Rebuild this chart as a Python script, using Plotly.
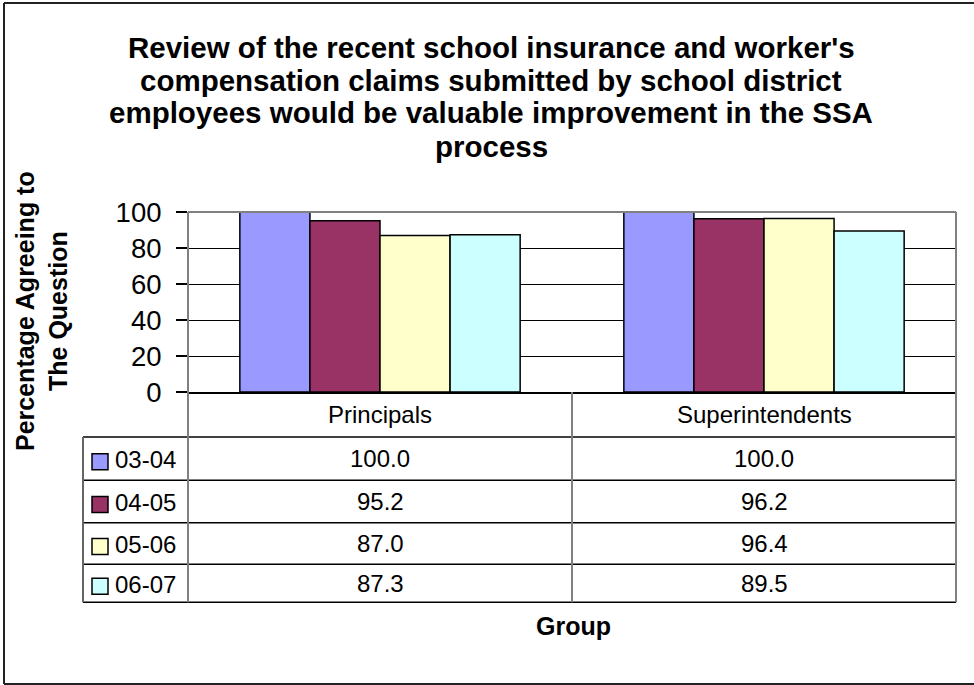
import plotly.graph_objects as go

# Survey results: percentage agreeing, by group and school year
groups = ["Principals", "Superintendents"]
years = ["03-04", "04-05", "05-06", "06-07"]
principals = [100.0, 95.2, 87.0, 87.3]
superintendents = [100.0, 96.2, 96.4, 89.5]
y_ticks = [0, 20, 40, 60, 80, 100]

title_lines = [
    "Review of the recent school insurance and worker's",
    "compensation claims submitted by school district",
    "employees would be valuable improvement in the SSA",
    "process",
]
y_title = "Percentage Agreeing to<br>The Question"
x_title = "Group"

colors = ["#9999FF", "#993366", "#FFFFCC", "#CCFFFF"]
FONT = "Liberation Sans, Arial, sans-serif"

# canvas and plot-area geometry (pixels)
W, H = 974, 685
L, R, T, B = 188, 956, 212, 392


def px(x):
    return (x - L) / (R - L)


def py(y):
    return (B - y) / (B - T)


fig = go.Figure()
values = list(zip(principals, superintendents))
for i, yr in enumerate(years):
    fig.add_trace(go.Bar(
        x=groups, y=list(values[i]), name=yr, showlegend=False,
        marker=dict(color=colors[i], line=dict(color="black", width=1.5)),
    ))

shapes = []
annotations = []


def hline(y, x0, x1, color="black", width=1.5):
    shapes.append(dict(type="line", xref="paper", yref="paper",
                       x0=px(x0), x1=px(x1), y0=py(y), y1=py(y),
                       line=dict(color=color, width=width)))


def vline(x, y0, y1, color="#808080", width=2):
    shapes.append(dict(type="line", xref="paper", yref="paper",
                       x0=px(x), x1=px(x), y0=py(y0), y1=py(y1),
                       line=dict(color=color, width=width)))


def text(s, x, y, size, bold=False, xanchor="center", angle=0):
    annotations.append(dict(
        text=f"<b>{s}</b>" if bold else s, xref="paper", yref="paper",
        x=px(x), y=py(y), xanchor=xanchor, yanchor="middle", showarrow=False,
        textangle=angle, font=dict(family=FONT, size=size, color="black"),
    ))


# outer chart frame (runs off the right edge of the canvas)
hline(3, 4, W, color="#222222", width=2)
hline(684, 4, W, color="#222222", width=2)
vline(4, 3, 684, color="#222222", width=2)

# plot-area border (top edge sits on the 100 line)
hline(T, L, R, color="#808080", width=2)

# data table grid
col_left, col_mid = 83, (L + R) / 2
row_edges = [437, 480.3, 522.7, 564.3, 602.3]
for y in row_edges:
    hline(y, col_left, R)
vline(L, T, row_edges[-1])
vline(R, T, row_edges[-1])
vline(col_mid, B, row_edges[-1])
vline(col_left, row_edges[0], row_edges[-1], color="#666666")

# category header row
centers = [(L + col_mid) / 2, (col_mid + R) / 2]
for g, cx in zip(groups, centers):
    text(g, cx, (B + row_edges[0]) / 2, 24)

# series rows: legend key, label and values
for i, yr in enumerate(years):
    cy = (row_edges[i] + row_edges[i + 1]) / 2
    shapes.append(dict(type="rect", xref="paper", yref="paper",
                       x0=px(92), x1=px(108), y0=py(cy - 5), y1=py(cy + 11),
                       fillcolor=colors[i], line=dict(color="black", width=1.5)))
    text(yr, 113, cy + 1, 24, xanchor="left")
    for v, cx in zip(values[i], centers):
        text(f"{v:.1f}", cx, cy, 24)

# chart title, one annotation per line
for k, line in enumerate(title_lines):
    text(line, 491, 47 + 33 * k, 29.5, bold=True)

text(y_title, 41, 311, 25, bold=True, angle=-90)
text(x_title, 573, 626, 25, bold=True)

fig.update_layout(
    width=W, height=H,
    margin=dict(l=L, r=W - R, t=T, b=H - B, pad=0),
    paper_bgcolor="white", plot_bgcolor="white",
    barmode="group", bargap=0.27, bargroupgap=0,
    font=dict(family=FONT, color="black"),
    shapes=shapes, annotations=annotations,
    xaxis=dict(showticklabels=False, showgrid=False, zeroline=False,
               showline=True, linecolor="black", linewidth=1.5,
               range=[-0.5, 1.5]),
    yaxis=dict(range=[0, 100], tickvals=y_ticks, ticks="outside",
               ticklen=11, tickcolor="black", tickwidth=1.5,
               ticklabelstandoff=9,
               showgrid=True, gridcolor="black", gridwidth=1.2,
               zeroline=False, showline=False,
               tickfont=dict(family=FONT, size=27.5, color="black")),
)

fig.write_html("out.html")
